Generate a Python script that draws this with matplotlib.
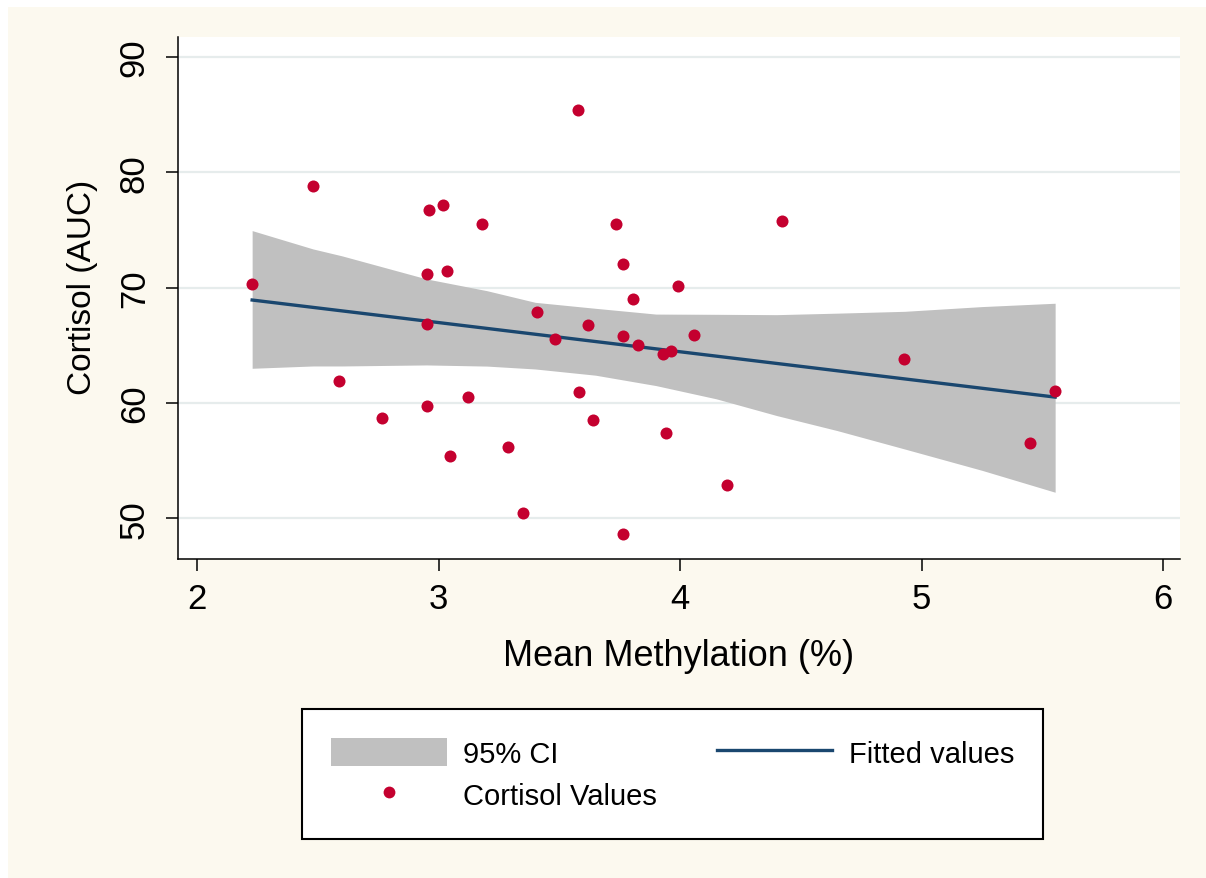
import numpy as np
import matplotlib
matplotlib.use("Agg")
import matplotlib.pyplot as plt
from matplotlib.patches import Rectangle, Patch
from matplotlib.lines import Line2D

plt.rcParams['font.family'] = ['Liberation Sans', 'DejaVu Sans']

# scatter values
methylation = [2.228, 2.478, 2.589, 2.765, 2.962, 3.017, 2.954, 3.035, 2.954, 2.954,
               3.048, 3.121, 3.181, 3.286, 3.348, 3.409, 3.484, 3.579, 3.580, 3.619,
               3.641, 3.734, 3.763, 3.764, 3.764, 3.807, 3.827, 3.931, 3.942, 3.961,
               3.993, 4.058, 4.193, 4.421, 4.929, 5.449, 5.553]
cortisol = [70.34, 78.84, 61.87, 58.72, 76.73, 77.13, 71.15, 71.47, 66.87, 59.70,
            55.40, 60.48, 75.52, 56.20, 50.48, 67.91, 65.57, 85.40, 60.97, 66.79,
            58.55, 75.52, 72.02, 65.83, 48.60, 69.04, 65.00, 64.24, 57.42, 64.53,
            70.17, 65.92, 52.91, 75.78, 63.81, 56.52, 61.06]

# fitted line and 95% CI band (edges read at several x positions)
fit_x = [2.228, 5.553]
fit_y = [68.92, 60.50]
ci_x = [2.228, 2.48, 2.6, 2.95, 3.2, 3.4, 3.65, 3.9, 4.15, 4.4, 4.65, 4.93, 5.25, 5.553]
ci_hi = [74.94, 73.35, 72.75, 70.75, 69.73, 68.72, 68.20, 67.70, 67.68, 67.65, 67.78, 67.94, 68.35, 68.64]
ci_lo = [63.00, 63.20, 63.20, 63.29, 63.19, 62.94, 62.40, 61.50, 60.35, 58.90, 57.60, 56.00, 54.15, 52.25]

x_ticks = [2, 3, 4, 5, 6]
y_ticks = [50, 60, 70, 80, 90]

red = "#C4002F"
navy = "#1A476F"
band = "#C0C0C0"

W, H = 1206, 879
fig = plt.figure(figsize=(W / 100, H / 100), dpi=100)
fig.patch.set_facecolor("white")
fig.add_artist(Rectangle((8 / W, 0), 1, 1 - 8 / H, transform=fig.transFigure,
                         facecolor="#FCF9EF", edgecolor="none", zorder=-10))

ax = fig.add_axes([178 / W, 1 - 560 / H, 1002 / W, 522 / H])
ax.set_facecolor("white")

ax.fill_between(ci_x, ci_lo, ci_hi, color=band, lw=0, zorder=2)
ax.plot(fit_x, fit_y, color=navy, lw=2.4, zorder=3)
ax.scatter(methylation, cortisol, s=75, color=red, lw=0, zorder=4)

ax.set_xlim(1.921, 6.070)
ax.set_ylim(46.46, 91.73)
ax.set_xticks(x_ticks)
ax.set_yticks(y_ticks)
ax.yaxis.grid(True, color="#E6ECEC", lw=1.6)
ax.set_axisbelow(True)

for s in ["top", "right"]:
    ax.spines[s].set_visible(False)
for s in ["left", "bottom"]:
    ax.spines[s].set_linewidth(1.1)
    ax.spines[s].set_color("black")

ax.tick_params(axis="both", length=8.6, width=1.1, color="black", labelsize=25)
ax.tick_params(axis="x", pad=8)
ax.tick_params(axis="y", pad=11, labelrotation=90)
plt.setp(ax.get_yticklabels(), va="center")

ax.set_xlabel("Mean Methylation (%)", fontsize=26, va="center")
ax.xaxis.set_label_coords(0.5, (560 - 657) / 522)
ax.set_ylabel("Cortisol (AUC)", fontsize=24, va="center", ha="center")
ax.yaxis.set_label_coords((83 - 178) / 1002, (560 - 287) / 522)

handles = [Patch(facecolor=band, edgecolor="none"),
           Line2D([], [], marker="o", ls="none", color=red, markersize=8.5, markeredgewidth=0),
           Line2D([], [], color=navy, lw=2.4)]
labels = ["95% CI", "Cortisol Values", "Fitted values"]
leg = fig.legend(handles, labels, ncol=2, loc="upper left",
                 bbox_to_anchor=(302 / W, 1 - 710 / H), fontsize=21,
                 frameon=True, fancybox=False, framealpha=1, borderpad=1.0,
                 handlelength=3.97, handleheight=1.1, handletextpad=0.55,
                 columnspacing=2.05, labelspacing=0.42, borderaxespad=0)
leg.get_frame().set_edgecolor("black")
leg.get_frame().set_linewidth(1.5)
leg.get_frame().set_facecolor("white")

fig.savefig("out.png", dpi=100)
